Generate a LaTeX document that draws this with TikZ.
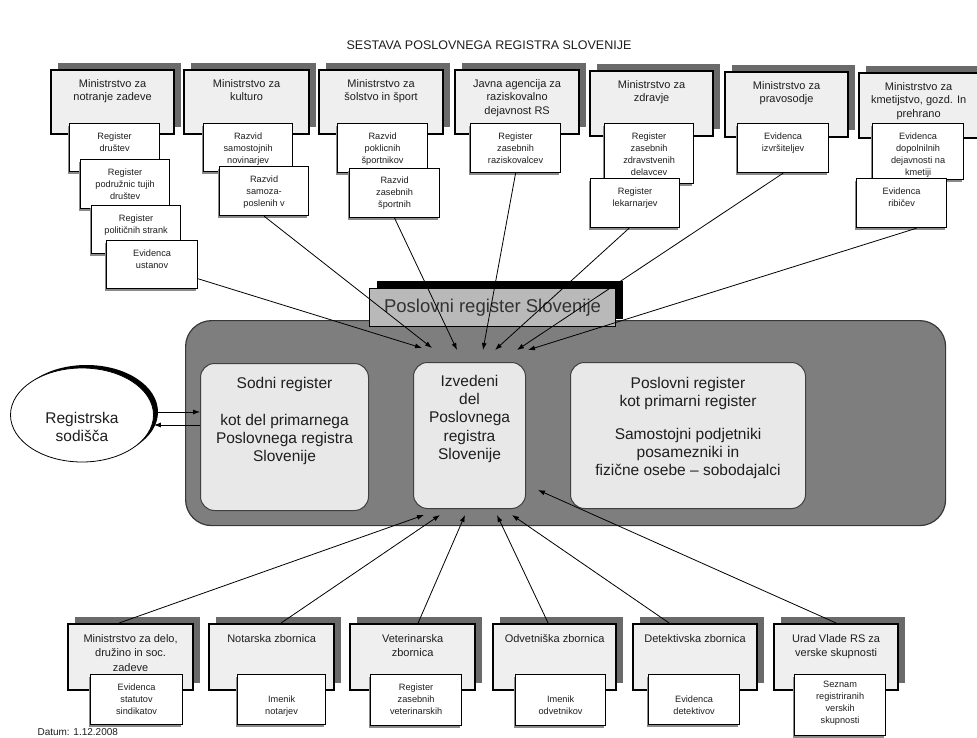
\documentclass[tikz,border=0pt]{standalone}
\usepackage{fontspec}
\setmainfont{Liberation Sans}
\usetikzlibrary{shadows,arrows.meta,shapes.geometric}
\definecolor{hdrfill}{HTML}{EFEFEF}
\definecolor{shgray}{HTML}{6A6A6A}
\definecolor{subsh}{HTML}{8A8A8A}
\definecolor{txt}{HTML}{1E1E1E}
\definecolor{bigfill}{HTML}{7E7E7E}
\definecolor{bigbord}{HTML}{383838}
\definecolor{innerfill}{HTML}{E8E8E8}
\definecolor{inbord}{HTML}{404040}
\definecolor{lblfill}{HTML}{B9B9B9}
\newcommand\bx[8]{\node[#2,anchor=north west,minimum width=#5pt,minimum height=#6pt,inner sep=0pt] (#1) at (#3,#4) {\parbox[c][#6pt][t]{#5pt}{\centering\vspace*{#7pt}\noindent #8\par}};}
\tikzset{
  hdr/.style={draw=black, line width=2.2pt, fill=hdrfill,
    general shadow={fill=shgray, shadow xshift=7pt, shadow yshift=7pt},
    font=\fontsize{11}{13.5}\selectfont, text=txt},
  bhdr/.style={hdr, font=\fontsize{11}{14.5}\selectfont},
  subbox/.style={draw=black, line width=1.2pt, fill=white,
    general shadow={fill=subsh, shadow xshift=-1.5pt, shadow yshift=-2.2pt},
    font=\fontsize{9.2}{12}\selectfont, text=txt},
  innerbox/.style={draw=inbord, line width=1pt, fill=innerfill, rounded corners=14pt,
    font=\fontsize{15.5}{18}\selectfont, text=txt},
  bigbox/.style={draw=bigbord, line width=1.2pt, fill=bigfill, rounded corners=26pt},
  lbl/.style={draw=black, line width=1pt, fill=lblfill,
    general shadow={fill=black, shadow xshift=7pt, shadow yshift=8pt},
    font=\fontsize{18.5}{20}\selectfont, text=black!80},
  ell/.style={ellipse, draw=black, line width=0.8pt, fill=white, inner sep=0pt,
    general shadow={fill=black, shadow xshift=4.5pt, shadow yshift=3pt},
    font=\fontsize{15.5}{18}\selectfont, text=txt},
  arr/.style={line width=0.8pt, -{Latex[length=7pt,width=5pt]}},
}
\begin{document}
\begin{tikzpicture}[x=1pt,y=-1pt]
\useasboundingbox (0,0) rectangle (977,738);
\fill[white] (0,0) rectangle (977,738);

\node[font=\fontsize{12.5}{15}\selectfont, text=txt] (title) at (489,45) {SESTAVA POSLOVNEGA REGISTRA SLOVENIJE};

% top headers
\bx{h1}{hdr}{50}{69}{123}{64}{9}{Ministrstvo za\\notranje zadeve}
\bx{h2}{hdr}{183}{69}{125}{64}{9}{Ministrstvo za\\kulturo}
\bx{h3}{hdr}{318}{69}{124}{64}{9}{Ministrstvo za\\šolstvo in šport}
\bx{h4}{hdr}{454}{69}{124}{64}{9}{Javna agencija za\\raziskovalno\\dejavnost RS}
\bx{h5}{hdr}{589}{70}{123}{65}{9}{Ministrstvo za\\zdravje}
\bx{h6}{hdr}{724}{71}{123}{65}{9}{Ministrstvo za\\pravosodje}
\bx{h7}{hdr}{858}{72}{119}{65}{9}{Ministrstvo za\\kmetijstvo, gozd. In\\prehrano}

% top sub boxes
\bx{s11}{subbox}{69}{123}{90}{48}{9}{Register\\društev}
\bx{s12}{subbox}{80}{159}{89}{49}{9}{Register\\podružnic tujih\\društev}
\bx{s13}{subbox}{91}{205}{89}{48}{9}{Register\\političnih strank}
\bx{s14}{subbox}{106}{240}{91}{48}{9}{Evidenca\\ustanov}
\bx{s21}{subbox}{203}{123}{89}{48}{9}{Razvid\\samostojnih\\novinarjev}
\bx{s22}{subbox}{219}{166}{89}{49}{9}{Razvid\\samoza-\\poslenih v}
\bx{s31}{subbox}{337}{123}{90}{49}{9}{Razvid\\poklicnih\\športnikov}
\bx{s32}{subbox}{349}{168}{90}{49}{8.5}{Razvid\\zasebnih\\športnih}
\bx{s41}{subbox}{470}{123}{90}{49}{9}{Register\\zasebnih\\raziskovalcev}
\bx{s51}{subbox}{604}{123}{89}{60}{9}{Register\\zasebnih\\zdravstvenih\\delavcev}
\bx{s52}{subbox}{590}{178}{89}{49}{9}{Register\\lekarnarjev}
\bx{s61}{subbox}{737}{123}{91}{49}{9}{Evidenca\\izvršiteljev}
\bx{s71}{subbox}{872}{123}{91}{56}{9}{Evidenca\\dopolnilnih\\dejavnosti na\\kmetiji}
\bx{s72}{subbox}{856}{178}{90}{49}{9}{Evidenca\\ribičev}

% centre
\node[bigbox, anchor=north west, minimum width=760pt, minimum height=205pt] (big) at (185,320) {};
\node[lbl, anchor=north west, minimum width=246pt, minimum height=38pt, inner sep=0pt] (lab) at (369,288) {Poslovni register Slovenije};
\bx{sod}{innerbox}{200}{363}{168}{147}{14}{Sodni register\\[19pt]kot del primarnega\\Poslovnega registra\\Slovenije}
\bx{izv}{innerbox}{413}{362}{112}{146}{12.5}{\fontsize{15.5}{18.3}\selectfont Izvedeni\\del\\Poslovnega\\registra\\Slovenije}
\bx{kot}{innerbox}{570}{362}{235}{146}{15}{Poslovni register\\kot primarni register\\[14.5pt]Samostojni podjetniki\\posamezniki in\\fizične osebe – sobodajalci}

% ellipse
\node[ell, minimum width=143pt, minimum height=94pt] (reg) at (82,415) {\parbox[c][66pt][t]{100pt}{\centering\vspace*{30pt}\noindent Registrska\\sodišča\par}};
\coordinate (e1) at ([yshift=3pt]reg.east);
\coordinate (e2) at ([yshift=-10pt]reg.east);
\draw[arr] (e1) -- (e1 -| sod.west);
\draw[arr] (e2 -| sod.west) -- (e2);

% bottom headers
\bx{b1}{bhdr}{67}{623}{125}{66}{10}{Ministrstvo za delo,\\družino in soc.\\zadeve}
\bx{b2}{bhdr}{208}{623}{125}{66}{10}{Notarska zbornica}
\bx{b3}{bhdr}{349}{623}{125}{66}{10}{Veterinarska\\zbornica}
\bx{b4}{bhdr}{492}{623}{123}{66}{10}{Odvetniška zbornica}
\bx{b5}{bhdr}{632}{623}{124}{66}{10}{Detektivska zbornica}
\bx{b6}{bhdr}{773}{623}{124}{66}{10}{Urad Vlade RS za\\verske skupnosti}

% bottom sub boxes
\bx{c1}{subbox}{90}{674}{92}{50}{9.5}{Evidenca\\statutov\\sindikatov}
\bx{c2}{subbox}{237}{674}{88}{50}{21.5}{Imenik\\notarjev}
\bx{c3}{subbox}{370}{674}{91}{51}{9.5}{Register\\zasebnih\\veterinarskih}
\bx{c4}{subbox}{515}{674}{90}{51}{21.5}{Imenik\\odvetnikov}
\bx{c5}{subbox}{648}{674}{91}{50}{21.5}{Evidenca\\detektivov}
\bx{c6}{subbox}{794}{674}{91}{61}{6}{Seznam\\registriranih\\verskih\\skupnosti}

\node[anchor=west, font=\fontsize{10}{12}\selectfont, text=txt] (date) at (34,732) {Datum: 1.12.2008};

% arrow targets
\coordinate (t1) at (422,348);
\coordinate (t2) at (432,348);
\coordinate (t3) at (457,350);
\coordinate (t4) at (483,350);
\coordinate (t5) at (495,350);
\coordinate (t6) at (517,350);
\coordinate (t7) at (528,350);
\coordinate (u1) at (424,515);
\coordinate (u2) at (440,515);
\coordinate (u3) at (465,515);
\coordinate (u4) at (497,515);
\coordinate (u5) at (512,515);
\coordinate (u6) at (538,490);

\draw[arr] (s14) -- (t1);
\draw[arr] (s22.south) -- (t2);
\draw[arr] (s32.south) -- (t3);
\draw[arr] (s41.south) -- (t4);
\draw[arr] ([xshift=-6pt]s52.south) -- (t5);
\draw[arr] (s61.south) -- (t6);
\draw[arr] ([xshift=15pt]s72.south) -- (t7);

\draw[arr] ([xshift=-11.5pt]b1.north) -- (u1);
\draw[arr] ([xshift=9.5pt]b2.north) -- (u2);
\draw[arr] ([xshift=5.5pt]b3.north) -- (u3);
\draw[arr] ([xshift=-6.5pt]b4.north) -- (u4);
\draw[arr] ([xshift=-26pt]b5.north) -- (u5);
\draw[arr] (b6.north) -- (u6);
\end{tikzpicture}
\end{document}
